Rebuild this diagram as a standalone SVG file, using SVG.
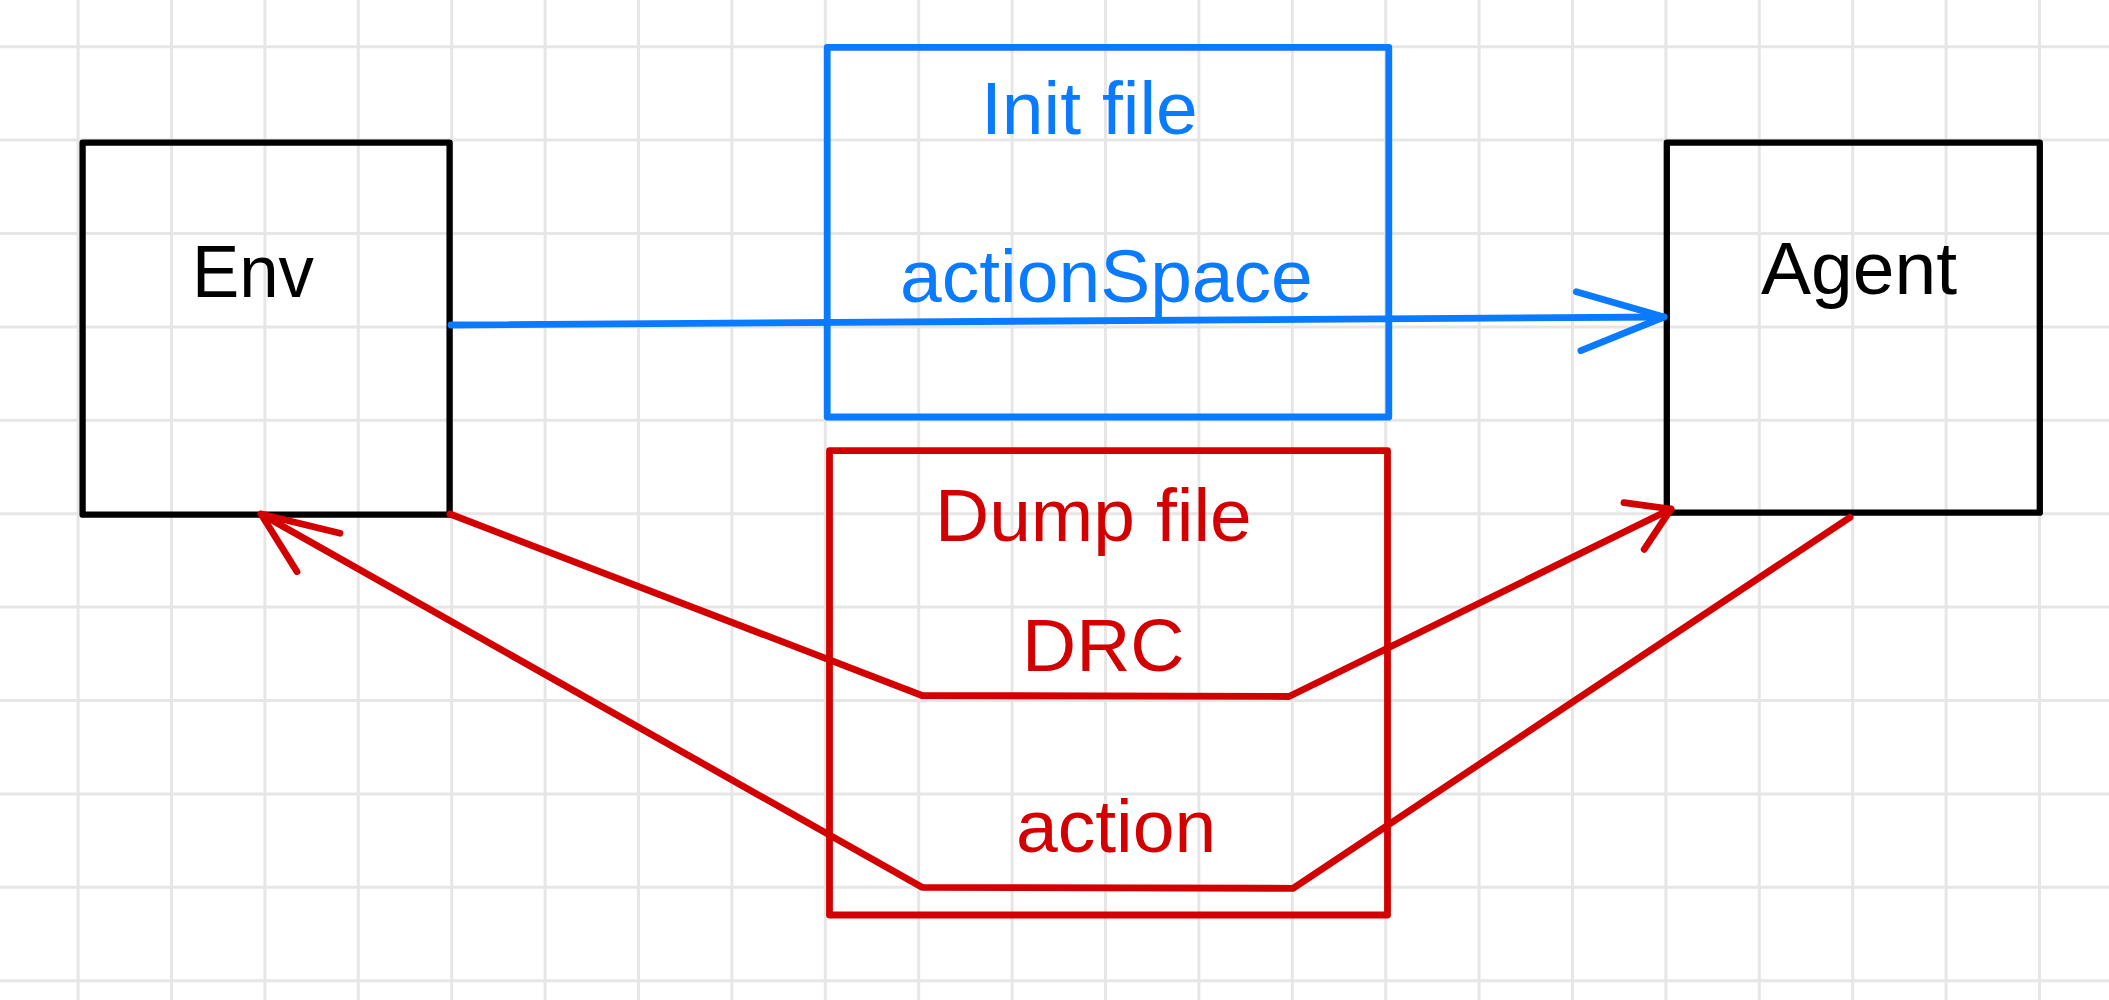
<svg xmlns="http://www.w3.org/2000/svg" width="2109" height="1000" viewBox="0 0 2109 1000">
<style>
.grid{stroke:#e6e6e6;stroke-width:3;fill:none}
.box{fill:none;stroke-width:6.8;stroke-linejoin:round;stroke-linecap:round}
.blk{stroke:#000;stroke-width:6.3}
.blue{stroke:#0a7aff}
.red{stroke:#d20000}
.conn{fill:none;stroke-width:6.8;stroke-linejoin:round;stroke-linecap:round}
text{font-family:"Liberation Sans",Arial,Helvetica,sans-serif;font-size:75px}
.tb{fill:#000}
.tblue{fill:#0a7aff}
.tred{fill:#d20000}
</style>
<rect x="0" y="0" width="2109" height="1000" fill="#fff"/>
<g id="grid" class="grid">
<path d="M78.1 0V1000M171.5 0V1000M264.9 0V1000M358.3 0V1000M451.7 0V1000M545.1 0V1000M638.5 0V1000M731.9 0V1000M825.3 0V1000M918.7 0V1000M1012.1 0V1000M1105.5 0V1000M1198.9 0V1000M1292.3 0V1000M1385.7 0V1000M1479.1 0V1000M1572.5 0V1000M1665.9 0V1000M1759.3 0V1000M1852.7 0V1000M1946.1 0V1000M2039.5 0V1000"/>
<path d="M0 46.7H2109M0 140.1H2109M0 233.5H2109M0 326.9H2109M0 420.3H2109M0 513.7H2109M0 607.1H2109M0 700.5H2109M0 793.9H2109M0 887.3H2109M0 980.7H2109"/>
</g>
<g id="env">
<rect class="box blk" x="82.6" y="142.7" width="367" height="372"/>
<text class="tb" x="192" y="297" textLength="122" lengthAdjust="spacingAndGlyphs">Env</text>
</g>
<g id="agent">
<rect class="box blk" x="1666.8" y="142.7" width="373" height="370"/>
<text class="tb" x="1761" y="294">Agent</text>
</g>
<g id="init-file">
<rect class="box blue" x="827.2" y="47.3" width="561.6" height="369.7"/>
<text class="tblue" x="981" y="134">Init file</text>
<text class="tblue" x="900" y="301.7">actionSpace</text>
</g>
<g id="dump-file">
<rect class="box red" x="829.5" y="450.7" width="558" height="464.3"/>
<text class="tred" x="935" y="541">Dump file</text>
<text class="tred" x="1022" y="671">DRC</text>
<text class="tred" x="1016" y="852.3">action</text>
</g>
<g id="connectors">
<path class="conn blue" d="M451 325L1664 317"/>
<path class="conn blue" d="M1576.3 291.7L1664 317L1580.9 350.7"/>
<path class="conn red" d="M450 514L922 695.5L1289 696.5L1671 509"/>
<path class="conn red" d="M1624 502.7L1671 509L1644.2 549.3"/>
<path class="conn red" d="M1850 517.3L1293 888.3L922 887.3L261 514"/>
<path class="conn red" d="M340 533.3L261 514L297 571.7"/>
</g>
</svg>
